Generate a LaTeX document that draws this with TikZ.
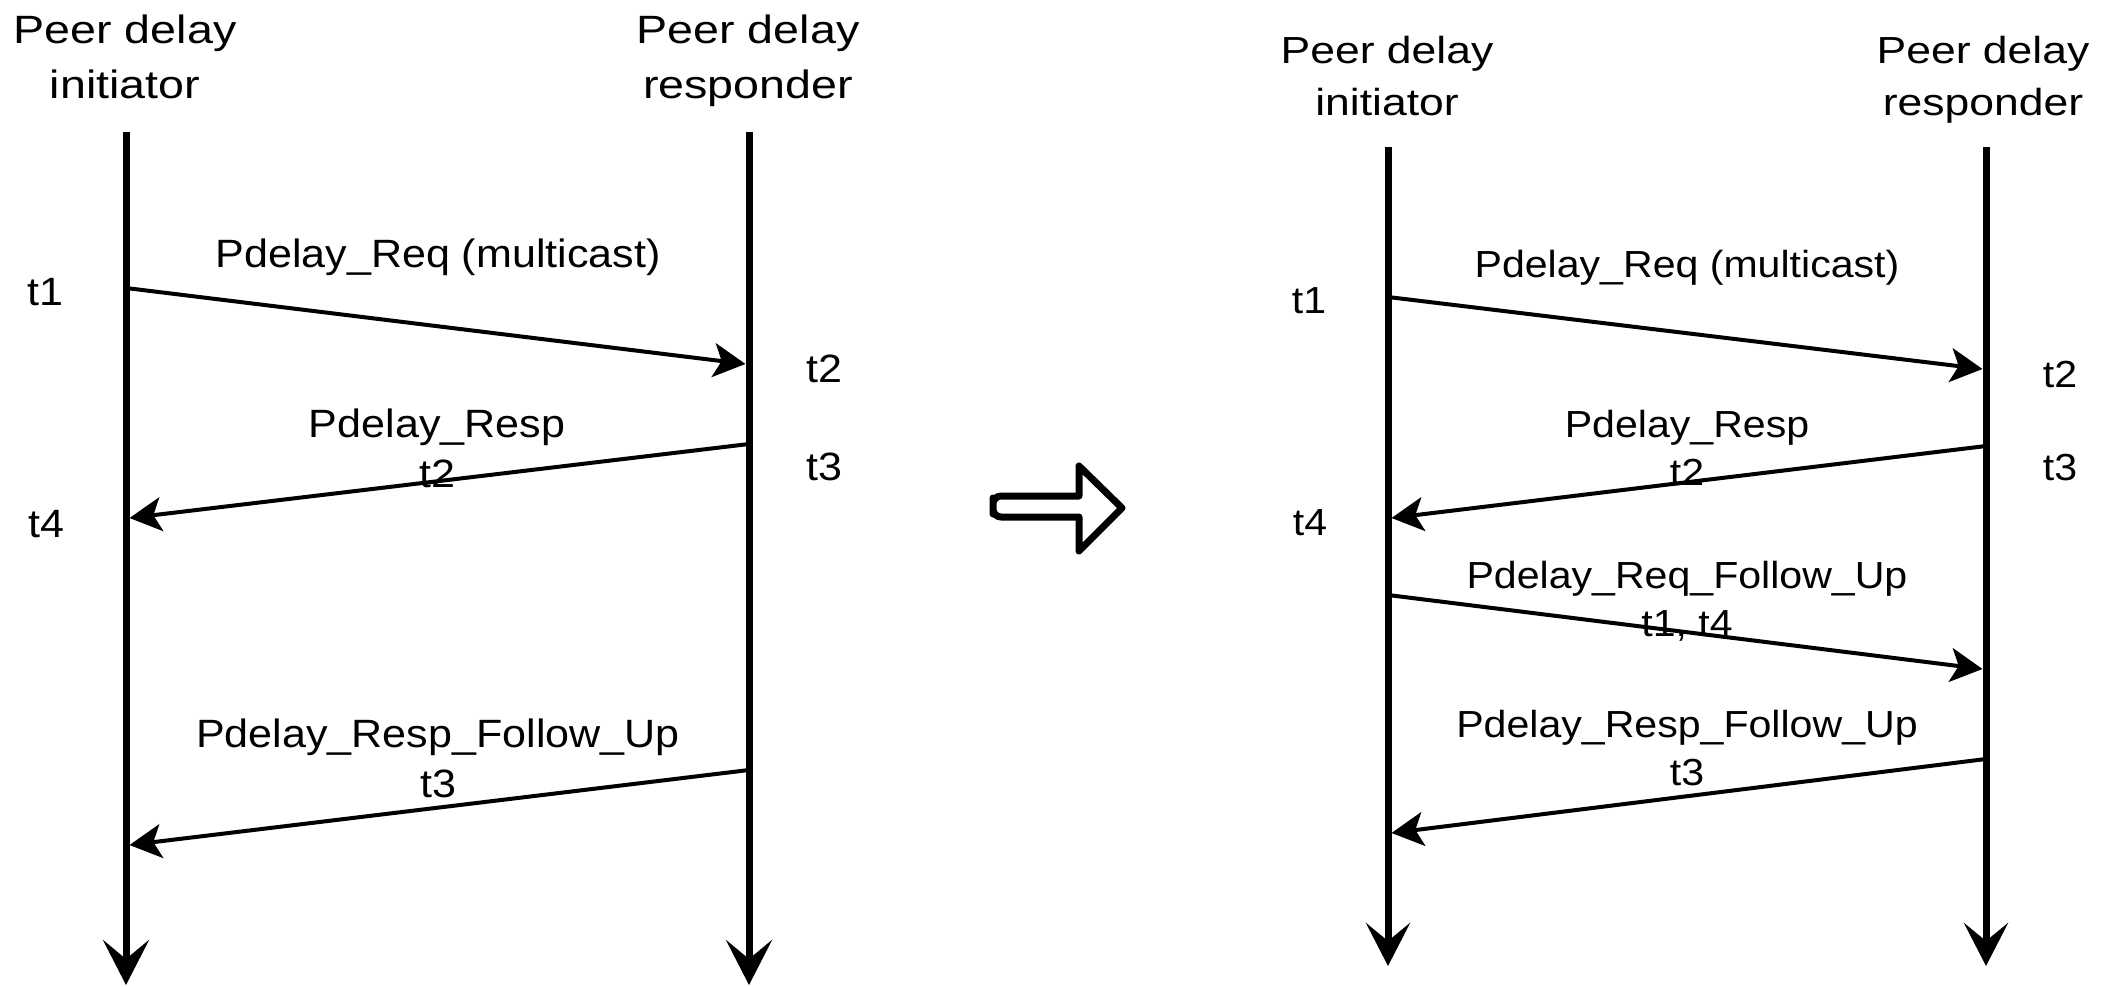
\documentclass[tikz,border=0pt]{standalone}
\usepackage{fontspec}
\setmainfont{Liberation Sans}
\newfontfamily\hdrfont[FakeStretch=1.18]{Liberation Sans}
\newfontfamily\lblfont[FakeStretch=1.09]{Liberation Sans}
\usetikzlibrary{arrows.meta}

% Multi-line nodes are placed by the baseline of their last line.
\tikzset{
  lifeline/.style={line width=3.5pt, -{Stealth[length=22.5pt,width=23pt,inset=9.5pt]}},
  lifelinesm/.style={line width=3.5pt, -{Stealth[length=21.5pt,width=22pt,inset=9pt]}},
  msg/.style={line width=2pt, -{Stealth[length=16pt,width=17pt,inset=4pt]}},
  hdrL/.style={font=\hdrfont\fontsize{19.75pt}{27.5pt}\selectfont, align=center, inner sep=0pt, anchor=base},
  hdrR/.style={font=\hdrfont\fontsize{18.85pt}{26pt}\selectfont, align=center, inner sep=0pt, anchor=base},
  lblL/.style={font=\lblfont\fontsize{19.75pt}{25pt}\selectfont, align=center, inner sep=0pt, anchor=base},
  lblR/.style={font=\lblfont\fontsize{18.85pt}{24pt}\selectfont, align=center, inner sep=0pt, anchor=base},
  blockarrow/.style={line width=3.5pt, line join=round, fill=white},
}

\begin{document}
\begin{tikzpicture}[x=0.5pt, y=-0.5pt]
\useasboundingbox (0,0) rectangle (2110,986);

% ---------- before: two-step exchange ----------
\coordinate (aItop) at (126,132);  \coordinate (aIbot) at (126,985);
\coordinate (aRtop) at (749,132);  \coordinate (aRbot) at (749,985);
\draw[lifeline] (aItop) -- (aIbot);
\draw[lifeline] (aRtop) -- (aRbot);

\node[hdrL] (aIhdr) at (125,98) {Peer delay\\initiator};
\node[hdrL] (aRhdr) at (748,98) {Peer delay\\responder};

\node[lblL] (at1) at (45,305) {t1};
\node[lblL] (at4) at (46,537) {t4};
\node[lblL] (at2) at (824,382) {t2};
\node[lblL] (at3) at (824,480) {t3};

\coordinate (a1s) at (126,288);   \coordinate (a1e) at (745.5,364);
\coordinate (a2s) at (749,444);   \coordinate (a2e) at (129.5,518);
\coordinate (a3s) at (749,770);   \coordinate (a3e) at (129.5,845);
\draw[msg] (a1s) -- (a1e);
\draw[msg] (a2s) -- (a2e);
\draw[msg] (a3s) -- (a3e);

\node[lblL] (a1lbl) at (438,267) {Pdelay\_Req (multicast)};
\node[lblL] (a2lbl) at (437,487) {Pdelay\_Resp\\t2};
\node[lblL] (a3lbl) at (438,797) {Pdelay\_Resp\_Follow\_Up\\t3};

% ---------- transition arrow ----------
\draw[blockarrow] (993,506) [rounded corners=4pt] -- (993,496) -- (1030,496)
  [sharp corners] -- (1079,496) -- (1079,466) -- (1122,508) -- (1079,551)
  -- (1079,517) -- (1030,517) [rounded corners=4pt] -- (993,517) -- cycle;

% ---------- after: with Pdelay_Req_Follow_Up ----------
\coordinate (bItop) at (1388,147); \coordinate (bIbot) at (1388,966);
\coordinate (bRtop) at (1986,147); \coordinate (bRbot) at (1986,966);
\draw[lifelinesm] (bItop) -- (bIbot);
\draw[lifelinesm] (bRtop) -- (bRbot);

\node[hdrR] (bIhdr) at (1387,115) {Peer delay\\initiator};
\node[hdrR] (bRhdr) at (1983,115) {Peer delay\\responder};

\node[lblR] (bt1) at (1309,313) {t1};
\node[lblR] (bt4) at (1310,535) {t4};
\node[lblR] (bt2) at (2060,387) {t2};
\node[lblR] (bt3) at (2060,480) {t3};

\coordinate (b1s) at (1388,297);  \coordinate (b1e) at (1982.5,369);
\coordinate (b2s) at (1986,446);  \coordinate (b2e) at (1391.5,518);
\coordinate (b3s) at (1388,595);  \coordinate (b3e) at (1982.5,669);
\coordinate (b4s) at (1986,759);  \coordinate (b4e) at (1391.5,833);
\draw[msg] (b1s) -- (b1e);
\draw[msg] (b2s) -- (b2e);
\draw[msg] (b3s) -- (b3e);
\draw[msg] (b4s) -- (b4e);

\node[lblR] (b1lbl) at (1687,277) {Pdelay\_Req (multicast)};
\node[lblR] (b2lbl) at (1687,485) {Pdelay\_Resp\\t2};
\node[lblR] (b3lbl) at (1687,636) {Pdelay\_Req\_Follow\_Up\\t1, t4};
\node[lblR] (b4lbl) at (1687,785) {Pdelay\_Resp\_Follow\_Up\\t3};
\end{tikzpicture}
\end{document}
